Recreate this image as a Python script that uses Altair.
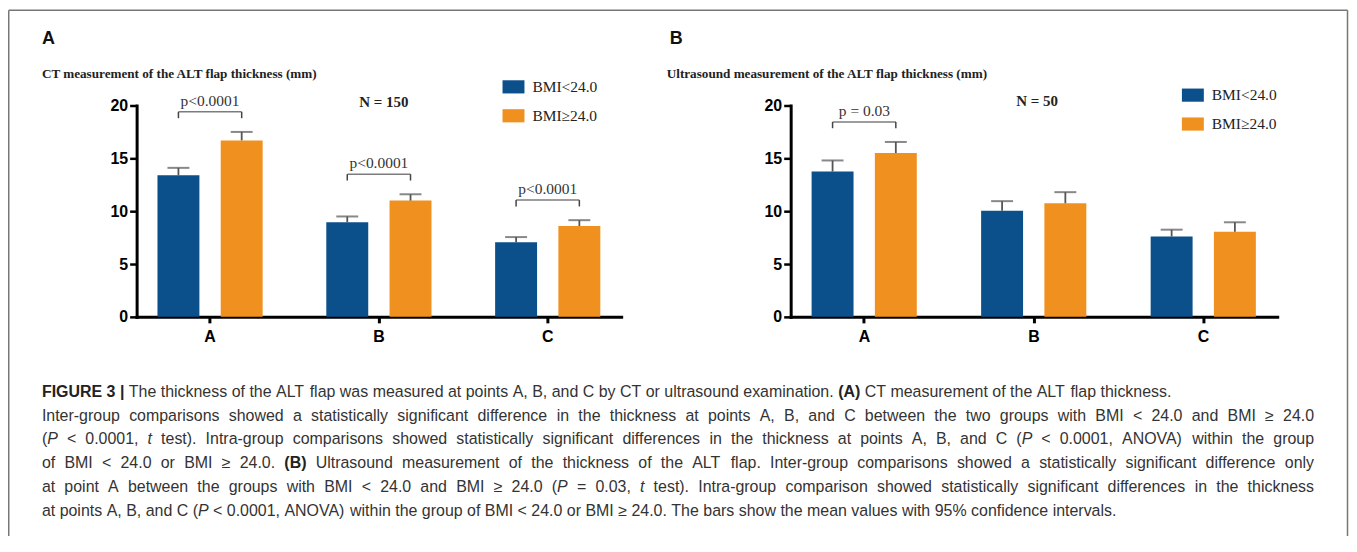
import re
import altair as alt
import pandas as pd

# ---------------- data ----------------
points = ["A", "B", "C"]
groups = ["BMI<24.0", "BMI≥24.0"]

# Panel A: CT measurement (N = 150)
ct_mean_low = [13.4, 8.95, 7.05]
ct_mean_high = [16.7, 11.0, 8.6]
ct_ci_low = [14.1, 9.5, 7.55]
ct_ci_high = [17.5, 11.6, 9.15]
ct_p = ["p<0.0001", "p<0.0001", "p<0.0001"]
ct_n = "N = 150"
ct_title = "CT measurement of the ALT flap thickness (mm)"

# Panel B: Ultrasound measurement (N = 50)
us_mean_low = [13.75, 10.05, 7.6]
us_mean_high = [15.5, 10.75, 8.05]
us_ci_low = [14.8, 10.95, 8.25]
us_ci_high = [16.55, 11.8, 8.95]
us_p = ["p = 0.03", "", ""]
us_n = "N = 50"
us_title = "Ultrasound measurement of the ALT flap thickness (mm)"

y_ticks = [0, 5, 10, 15, 20]

caption_lines = [
    "**FIGURE 3 |** The thickness of the ALT flap was measured at points A, B, and C by CT or ultrasound examination. **(A)** CT measurement of the ALT flap thickness.",
    "Inter-group comparisons showed a statistically significant difference in the thickness at points A, B, and C between the two groups with BMI < 24.0 and BMI ≥ 24.0",
    "(_P_ < 0.0001, _t_ test). Intra-group comparisons showed statistically significant differences in the thickness at points A, B, and C (_P_ < 0.0001, ANOVA) within the group",
    "of BMI < 24.0 or BMI ≥ 24.0. **(B)** Ultrasound measurement of the thickness of the ALT flap. Inter-group comparisons showed a statistically significant difference only",
    "at point A between the groups with BMI < 24.0 and BMI ≥ 24.0 (_P_ = 0.03, _t_ test). Intra-group comparison showed statistically significant differences in the thickness",
    "at points A, B, and C (_P_ < 0.0001, ANOVA) within the group of BMI < 24.0 or BMI ≥ 24.0. The bars show the mean values with 95% confidence intervals.",
]
caption_justify = [False, True, True, True, True, False]

# ---------------- style ----------------
BLUE = "#0b4f8b"
ORANGE = "#f0901e"
SANS = "Liberation Sans"
SERIF = "Liberation Serif"

# ---------------- caption layout (Arial / Liberation Sans metrics) ----------------
REG = {}
for ch, w in zip("abcdefghijklmnopqrstuvwxyz",
                 [556, 556, 500, 556, 556, 278, 556, 556, 222, 222, 500, 222, 833,
                  556, 556, 556, 556, 333, 500, 278, 556, 500, 722, 500, 500, 500]):
    REG[ch] = w
for ch, w in zip("ABCDEFGHIJKLMNOPQRSTUVWXYZ",
                 [667, 667, 722, 722, 667, 611, 778, 722, 278, 500, 667, 556, 833,
                  722, 778, 667, 778, 722, 667, 611, 722, 667, 944, 667, 667, 611]):
    REG[ch] = w
for ch in "0123456789":
    REG[ch] = 556
REG.update({" ": 278, ".": 278, ",": 278, "(": 333, ")": 333, "-": 333, "<": 584,
            "=": 584, ">": 584, "≥": 549, "%": 889, "|": 260})
BOLD = dict(REG)
for ch, w in zip("ABCDEFGHIJKLMNOPQRSTUVWXYZ",
                 [722, 722, 722, 722, 667, 611, 778, 722, 278, 556, 722, 611, 833,
                  722, 778, 667, 778, 722, 667, 611, 722, 667, 944, 667, 667, 611]):
    BOLD[ch] = w
BOLD["|"] = 280
WIDTHS = {"n": REG, "b": BOLD, "i": REG}


def parse(line):
    segs = []
    for piece in re.split(r"(\*\*.*?\*\*|_.*?_)", line):
        if not piece:
            continue
        if piece.startswith("**"):
            segs.append((piece[2:-2], "b"))
        elif piece.startswith("_") and piece.endswith("_") and len(piece) > 1:
            segs.append((piece[1:-1], "i"))
        else:
            segs.append((piece, "n"))
    words = [[]]
    for txt, st in segs:
        parts = txt.split(" ")
        for j, p in enumerate(parts):
            if j > 0:
                words.append([])
            if p:
                words[-1].append((p, st))
    return [w for w in words if w]


def em(text, st):
    return sum(WIDTHS[st].get(c, 556) for c in text) / 1000.0


CAP_X0 = -95.0          # relative to panel A plot origin
CAP_W = 1276.0
CAP_Y0 = 287.0
CAP_DY = 24.0

parsed = [parse(l) for l in caption_lines]
max_em = max(sum(em(t, s) for w in ws for t, s in w) + 0.278 * (len(ws) - 1)
             for ws, j in zip(parsed, caption_justify) if j)
CAP_FS = min(16.0, CAP_W * 0.995 / max_em)

cap_rows = []
for i, (ws, just) in enumerate(zip(parsed, caption_justify)):
    wwidths = [sum(em(t, s) for t, s in w) * CAP_FS for w in ws]
    if just and len(ws) > 1:
        gap = (CAP_W - sum(wwidths)) / (len(ws) - 1)
    else:
        gap = 0.278 * CAP_FS
    cx = CAP_X0
    for w, ww in zip(ws, wwidths):
        for t, s in w:
            cap_rows.append({"text": t, "x": cx, "y": CAP_Y0 + CAP_DY * i, "style": s})
            cx += em(t, s) * CAP_FS
        cx += gap
cap_df = pd.DataFrame(cap_rows)


def caption_layers():
    out = []
    for st, kw in [("n", dict(fontWeight="normal", fontStyle="normal", color="#333333")),
                   ("b", dict(fontWeight="bold", fontStyle="normal", color="#222222")),
                   ("i", dict(fontWeight="normal", fontStyle="italic", color="#333333"))]:
        sub = cap_df[cap_df["style"] == st]
        out.append(
            alt.Chart(sub).mark_text(align="left", baseline="middle", font=SANS,
                                     fontSize=CAP_FS, **kw).encode(
                x=alt.X("x:Q", scale=None, axis=None),
                y=alt.Y("y:Q", scale=None, axis=None),
                text="text:N",
            )
        )
    return out


def text_label(text, x, y, font, size, weight="normal", align="left", color="#222222"):
    return alt.Chart(pd.DataFrame({"t": [text]})).mark_text(
        align=align, baseline="middle", font=font, fontSize=size, fontWeight=weight,
        color=color).encode(x=alt.value(x), y=alt.value(y), text="t:N")


one = pd.DataFrame({"d": [0]})


def border_layers():
    L, T, R, B = -128.25, -95.55, 1214.5, 431.7
    st = dict(color="#777777", strokeWidth=1.5)
    return [
        alt.Chart(one).mark_rule(**st).encode(x=alt.value(L), y=alt.value(T), y2=alt.value(B)),
        alt.Chart(one).mark_rule(**st).encode(x=alt.value(R), y=alt.value(T), y2=alt.value(B)),
        alt.Chart(one).mark_rule(**st).encode(x=alt.value(L), x2=alt.value(R), y=alt.value(T)),
    ]


def panel(mean_low, mean_high, ci_low, ci_high, pvals, n_label, title, letter,
          width, legend_x, legend_y, n_x, n_y, letter_x, title_x, extra=()):
    bars = pd.DataFrame({
        "point": points * 2,
        "group": [groups[0]] * 3 + [groups[1]] * 3,
        "mean": list(mean_low) + list(mean_high),
        "upper": list(ci_low) + list(ci_high),
    })
    rows = []
    for i, p in enumerate(points):
        if pvals[i]:
            h = max(ci_low[i], ci_high[i]) + 1.9
            for g in groups:
                rows.append({"point": p, "group": g, "bracket": h, "leg": h - 0.6,
                             "label": pvals[i]})
    brk = pd.DataFrame(rows)
    brk1 = brk.drop_duplicates("point")

    yscale = alt.Scale(domain=[0, 20], nice=False, zero=True)
    yaxis = alt.Axis(title=None, values=y_ticks, grid=False, domainWidth=3,
                     domainColor="black", domainCap="square", tickColor="black",
                     tickWidth=2.5, tickSize=7, labelPadding=2, labelFont=SANS,
                     labelFontWeight="bold", labelFontSize=16, labelColor="black")
    xscale = alt.Scale(domain=points, paddingInner=0.377, paddingOuter=0.1235)
    xaxis = alt.Axis(title=None, labelAngle=0, bandPosition=0.5, domainWidth=3,
                     domainColor="black", domainCap="square", tickColor="black",
                     tickWidth=3, tickSize=6, labelPadding=6, labelFont=SANS,
                     labelFontWeight="bold", labelFontSize=16, labelColor="black")

    def X():
        return alt.X("point:N", scale=xscale, axis=xaxis)

    def XO():
        return alt.XOffset("group:N", scale=alt.Scale(domain=groups, paddingInner=0.337,
                                                      paddingOuter=0))

    def Y(f):
        return alt.Y(f, scale=yscale, axis=yaxis)

    legend = alt.Legend(title=None, orient="none", legendX=legend_x, legendY=legend_y,
                        direction="vertical", symbolType="M-1,-0.6H1V0.6H-1Z",
                        symbolSize=484, symbolStrokeWidth=0, labelFont=SERIF,
                        labelFontSize=15.5, labelColor="#222222", labelOffset=8,
                        rowPadding=9, padding=0, labelLimit=200)

    bar_layer = alt.Chart(bars).mark_bar().encode(
        x=X(), xOffset=XO(), y=Y("mean:Q"),
        color=alt.Color("group:N", scale=alt.Scale(domain=groups, range=[BLUE, ORANGE]),
                        legend=legend),
    )
    err = alt.Chart(bars).mark_rule(color="#555555", strokeWidth=1.8).encode(
        x=X(), xOffset=XO(), y=Y("mean:Q"), y2="upper:Q")
    cap = alt.Chart(bars).mark_tick(color="#555555", thickness=2, size=22,
                                    orient="horizontal").encode(
        x=X(), xOffset=XO(), y=Y("upper:Q"))
    legs = alt.Chart(brk).mark_rule(color="#444444", strokeWidth=1.5).encode(
        x=X(), xOffset=XO(), y=Y("bracket:Q"), y2="leg:Q")
    hline = alt.Chart(brk1).mark_tick(color="#444444", thickness=1.5, size=63.4,
                                      orient="horizontal").encode(
        x=X(), y=Y("bracket:Q"))
    ptxt = alt.Chart(brk1).mark_text(font=SERIF, fontSize=15.5, color="#333333",
                                     baseline="middle", dy=-11).encode(
        x=X(), y=Y("bracket:Q"), text="label:N")

    layers = [bar_layer, err, cap, legs, hline, ptxt,
              text_label(n_label, n_x, n_y, SERIF, 15, "bold", "center"),
              text_label(letter, letter_x, -66.3, SANS, 18, "bold", "left", "#111111"),
              text_label(title, title_x, -31.3, SERIF, 13.2, "bold", "left", "#222222")]
    layers += list(extra)
    return alt.layer(*layers).properties(width=width, height=212)


panel_a = panel(ct_mean_low, ct_mean_high, ct_ci_low, ct_ci_high, ct_p, ct_n, ct_title, "A",
                width=486, legend_x=367, legend_y=-29.7, n_x=248, n_y=-3.6,
                letter_x=-95, title_x=-95,
                extra=border_layers() + caption_layers())
panel_b = panel(us_mean_low, us_mean_high, us_ci_low, us_ci_high, us_p, us_n, us_title, "B",
                width=488, legend_x=392.4, legend_y=-21.4, n_x=247.2, n_y=-4.3,
                letter_x=-121.3, title_x=-124.3)

chart = alt.hconcat(panel_a, panel_b, spacing=170, bounds="flush", padding=0) \
    .resolve_legend(color="independent") \
    .configure_view(stroke=None)

chart.save("out.html", embed_options={"renderer": "svg", "actions": False})
